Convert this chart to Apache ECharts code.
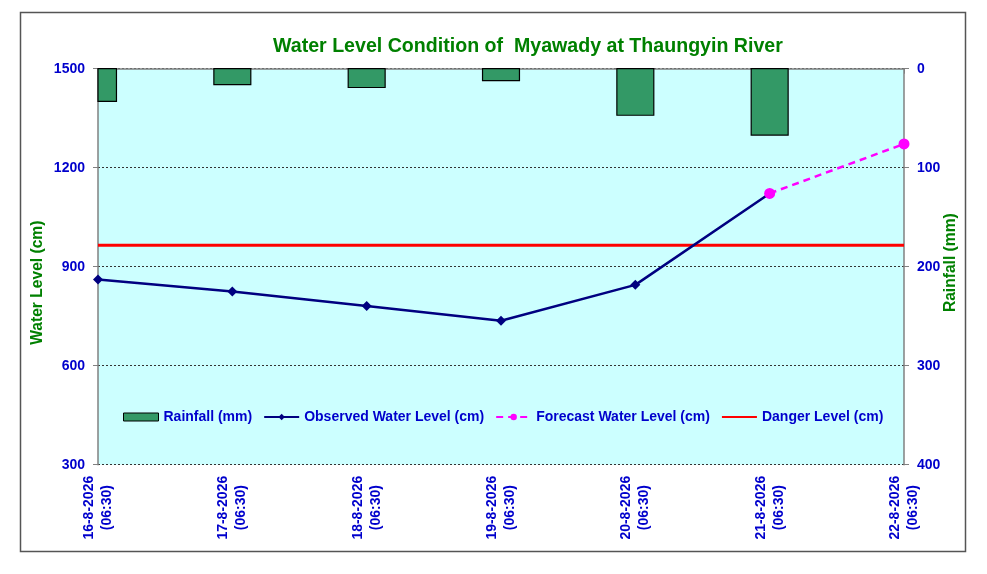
<!DOCTYPE html>
<html>
<head>
<meta charset="utf-8">
<title>Water Level Condition of Myawady at Thaungyin River</title>
<script src="https://cdn.jsdelivr.net/npm/echarts@6/dist/echarts.min.js"></script>
<style>
    html, body { margin: 0; padding: 0; background: #fff; }
    #main { width: 987px; height: 574px; }
</style>
</head>
<body>
<div id="main"></div>
<script>
// 数据
var dates = ['16-8-2026\n(06:30)', '17-8-2026\n(06:30)', '18-8-2026\n(06:30)', '19-8-2026\n(06:30)',
             '20-8-2026\n(06:30)', '21-8-2026\n(06:30)', '22-8-2026\n(06:30)'];
var rainfall = [33, 16, 19, 12, 47, 67, null];
var observed = [861, 825, 781, 736, 845, 1122, null];
var forecast = [null, null, null, null, null, 1122, 1272];
var danger = [965, 965, 965, 965, 965, 965, 965];

var blue = '#0000CC';
var green = '#008000';
var font = 'Liberation Sans, Arial, sans-serif';

var chart = echarts.init(document.getElementById('main'));

// 雨量柱：用 custom 系列画，这样第一根柱子可以被网格裁掉一半
var rainData = [];
rainfall.forEach(function (v, i) {
    if (v != null) rainData.push([i, v]);
});

function renderRain(params, api) {
    var x = api.value(0);
    var top = api.coord([x, 0]);
    var bottom = api.coord([x, api.value(1)]);
    var w = api.size([1, 0])[0] * 0.275;
    var cs = params.coordSys;
    var rect = echarts.graphic.clipRectByRect(
        { x: top[0] - w / 2, y: top[1], width: w, height: bottom[1] - top[1] },
        { x: cs.x, y: cs.y, width: cs.width, height: cs.height }
    );
    return rect && {
        type: 'rect',
        shape: rect,
        style: { fill: '#339966', stroke: '#000', lineWidth: 1.2 }
    };
}

var option = {
    backgroundColor: '#fff',
    animation: false,
    textStyle: { fontFamily: font },
    // 外框
    graphic: [{
        type: 'rect',
        shape: { x: 20.5, y: 12.5, width: 945, height: 539 },
        style: { fill: null, stroke: '#555', lineWidth: 1.5 },
        silent: true
    }],
    title: {
        text: 'Water Level Condition of  Myawady at Thaungyin River',
        left: 273,
        top: 37,
        padding: 0,
        textStyle: { color: green, fontSize: 19.6, fontWeight: 'bold', fontFamily: font }
    },
    legend: {
        left: 123,
        top: 410,
        padding: 0,
        itemWidth: 35,
        itemHeight: 8,
        itemGap: 11,
        textStyle: { color: blue, fontSize: 14, fontWeight: 'bold', fontFamily: font },
        data: [
            { name: 'Rainfall (mm)', icon: 'rect', itemStyle: { color: '#339966', borderColor: '#000', borderWidth: 1 } },
            'Observed Water Level (cm)',
            'Forecast Water Level (cm)',
            { name: 'Danger Level (cm)', itemStyle: { opacity: 0 } }
        ]
    },
    grid: {
        left: 98,
        right: 83,
        top: 68.7,
        bottom: 109.3,
        show: true,
        backgroundColor: '#CCFFFF',
        borderWidth: 0
    },
    xAxis: {
        type: 'category',
        data: dates,
        boundaryGap: false,
        axisLine: { lineStyle: { color: '#808080', width: 1.5 } },
        axisTick: { show: true, length: 5, lineStyle: { color: '#808080' } },
        axisLabel: {
            rotate: 90,
            align: 'center',
            margin: 43,
            lineHeight: 18,
            padding: [5, 0, 0, 0],
            color: blue,
            fontSize: 14,
            fontWeight: 'bold',
            fontFamily: font,
            interval: 0
        },
        splitLine: { show: false }
    },
    yAxis: [{
        type: 'value',
        min: 300,
        max: 1500,
        interval: 300,
        name: 'Water Level (cm)',
        nameLocation: 'middle',
        nameRotate: 90,
        nameGap: 52,
        nameMoveOverlap: false,
        nameTextStyle: { color: green, fontSize: 15.6, fontWeight: 'bold', fontFamily: font, padding: [0, 32, 0, 0] },
        axisLine: { show: true, lineStyle: { color: '#808080', width: 1.5 } },
        axisTick: { show: true, length: 5, lineStyle: { color: '#808080' } },
        axisLabel: {
            margin: 13, color: blue, fontSize: 14, fontWeight: 'bold', fontFamily: font,
            formatter: function (v) { return String(v); }
        },
        splitLine: { show: true, lineStyle: { color: '#333', type: [2, 2], width: 1 } }
    }, {
        type: 'value',
        min: 0,
        max: 400,
        interval: 100,
        inverse: true,
        position: 'right',
        name: 'Rainfall (mm)',
        nameLocation: 'middle',
        nameRotate: 90,
        nameGap: 39,
        nameMoveOverlap: false,
        nameTextStyle: { color: green, fontSize: 15.6, fontWeight: 'bold', fontFamily: font, padding: [0, 0, 0, 8] },
        axisLine: { show: true, lineStyle: { color: '#808080', width: 1.5 } },
        axisTick: { show: true, length: 5, lineStyle: { color: '#808080' } },
        axisLabel: {
            margin: 13, color: blue, fontSize: 14, fontWeight: 'bold', fontFamily: font,
            formatter: function (v) { return String(v); }
        },
        splitLine: { show: false }
    }],
    series: [{
        name: 'Rainfall (mm)',
        type: 'custom',
        yAxisIndex: 1,
        data: rainData,
        encode: { x: 0, y: 1 },
        renderItem: renderRain,
        itemStyle: { color: '#339966', borderColor: '#000', borderWidth: 1 },
        z: 2
    }, {
        name: 'Danger Level (cm)',
        type: 'line',
        data: danger,
        symbol: 'none',
        lineStyle: { color: '#FF0000', width: 3 },
        itemStyle: { color: '#FF0000' },
        z: 3
    }, {
        name: 'Observed Water Level (cm)',
        type: 'line',
        data: observed,
        symbol: 'diamond',
        symbolSize: 10,
        lineStyle: { color: '#000080', width: 2.5 },
        itemStyle: { color: '#000080' },
        z: 4
    }, {
        name: 'Forecast Water Level (cm)',
        type: 'line',
        data: forecast,
        symbol: 'circle',
        symbolSize: 11,
        lineStyle: { color: '#FF00FF', width: 2.5, type: [7, 5] },
        itemStyle: { color: '#FF00FF' },
        z: 5
    }]
};

chart.setOption(option);
</script>
</body>
</html>
